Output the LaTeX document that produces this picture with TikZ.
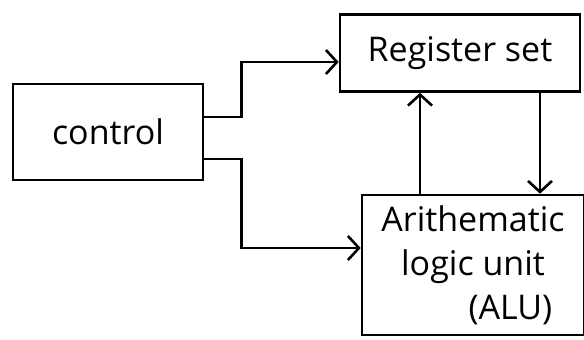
\documentclass[tikz,border=0pt]{standalone}
\usepackage{fontspec}
\setmainfont{Open Sans}
\usepackage{tikz}
\usetikzlibrary{arrows.meta}
\tikzstyle{blk}=[rectangle,draw,line width=2.6pt,inner sep=0pt,font=\fontsize{34}{44}\selectfont]
\tikzstyle{arr}=[-{Straight Barb[length=11pt,width=24pt]},draw,line width=2.6pt]

\begin{document}
\begin{tikzpicture}[x=1pt,y=-1pt]
      \useasboundingbox (0,0) rectangle (584,340);
      \node[blk,minimum width=190pt,minimum height=96pt] (ctrl) at (108,132) {control};
      \node[blk,minimum width=240pt,minimum height=77pt] (reg) at (460,53) {Register set};
      \node[blk,minimum width=222pt,minimum height=140pt,align=center] (alu) at (473,265)
            {Arithematic\\logic unit\\\hspace*{2.2em}(ALU)};
      \draw[arr] ([yshift=15pt]ctrl.east) -- ++(37,0) |- ([yshift=-9pt]reg.west);
      \draw[arr] ([yshift=-27pt]ctrl.east) -- ++(37,0) |- ([yshift=17pt]alu.west);
      \draw[arr] ([xshift=-53pt]alu.north) -- ([xshift=-53pt]alu.north |- reg.south);
      \draw[arr] ([xshift=80pt]reg.south) -- ([xshift=80pt]reg.south |- alu.north);
  \end{tikzpicture}
\end{document}
